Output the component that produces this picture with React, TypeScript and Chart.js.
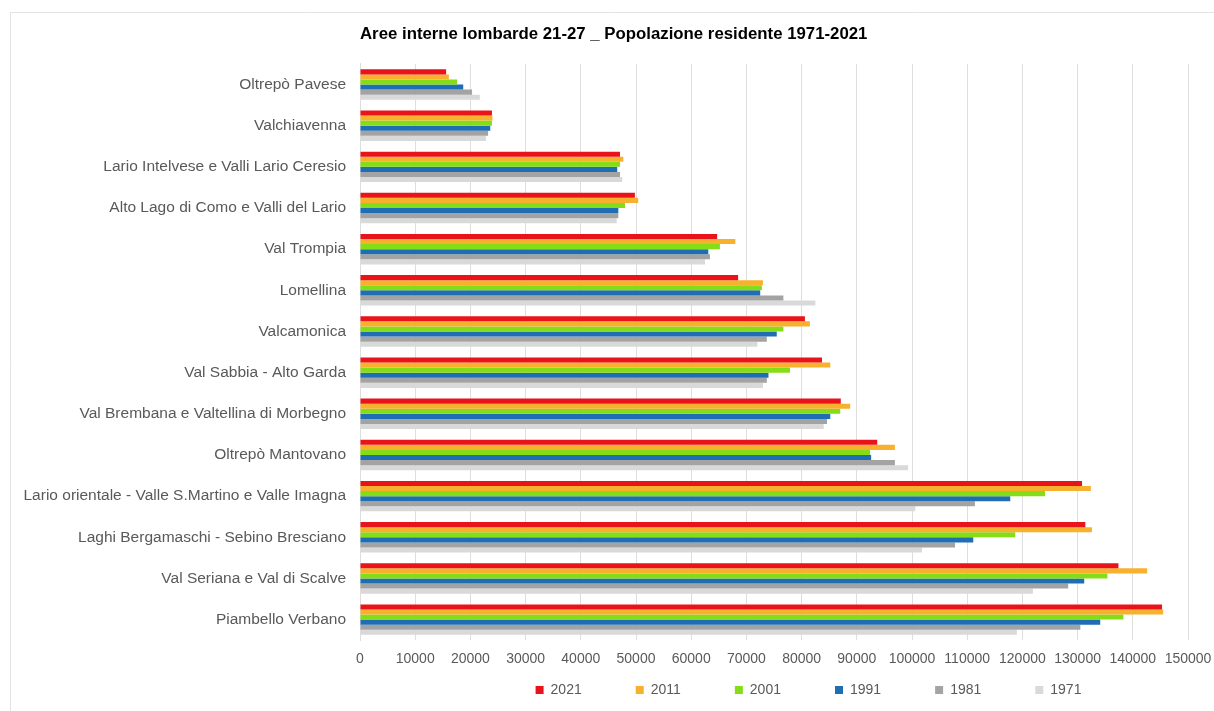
import React, { useEffect, useRef } from "react";
import { Chart, registerables } from "chart.js";

Chart.register(...registerables);

const categories = [
  "Oltrepò Pavese",
  "Valchiavenna",
  "Lario Intelvese e Valli Lario Ceresio",
  "Alto Lago di Como e Valli del Lario",
  "Val Trompia",
  "Lomellina",
  "Valcamonica",
  "Val Sabbia - Alto Garda",
  "Val Brembana e Valtellina di Morbegno",
  "Oltrepò Mantovano",
  "Lario orientale - Valle S.Martino e Valle Imagna",
  "Laghi Bergamaschi - Sebino Bresciano",
  "Val Seriana e Val di Scalve",
  "Piambello Verbano",
];

const pop2021 = [15600, 23900, 47100, 49800, 64700, 68500, 80600, 83700, 87100, 93700, 130800, 131400, 137400, 145300];
const pop2011 = [16100, 24000, 47700, 50400, 68000, 73000, 81500, 85200, 88800, 96900, 132400, 132600, 142600, 145500];
const pop2001 = [17600, 23900, 47100, 48000, 65200, 72800, 76700, 77900, 87000, 92400, 124100, 118700, 135400, 138300];
const pop1991 = [18700, 23600, 46600, 46800, 63100, 72500, 75500, 74000, 85200, 92600, 117800, 111100, 131200, 134100];
const pop1981 = [20300, 23200, 47100, 46800, 63400, 76700, 73700, 73700, 84600, 96900, 111400, 107800, 128300, 130500];
const pop1971 = [21700, 22800, 47500, 46500, 62500, 82500, 72000, 73000, 84000, 99300, 100600, 101800, 121900, 119000];

const seriesLabels = ["2021", "2011", "2001", "1991", "1981", "1971"];
const seriesColors = ["#E8141A", "#F7B12F", "#84DD16", "#1F6DB3", "#A3A3A3", "#D9D9D9"];

const xMin = 0;
const xMax = 150000;
const xStep = 10000;

const title = "Aree interne lombarde 21-27 _ Popolazione residente 1971-2021";

const FONT = "Liberation Sans, Arial, sans-serif";

const framePlugin = {
  id: "frame",
  beforeDraw(chart: any) {
    const ctx = chart.ctx;
    ctx.save();
    ctx.fillStyle = "#ffffff";
    ctx.fillRect(0, 0, chart.width, chart.height);
    ctx.strokeStyle = "#e3e3e3";
    ctx.lineWidth = 1;
    ctx.beginPath();
    ctx.moveTo(10.5, chart.height);
    ctx.lineTo(10.5, 12.5);
    ctx.lineTo(chart.width, 12.5);
    ctx.stroke();
    ctx.restore();
  },
};

export default function App() {
  const ref = useRef<HTMLCanvasElement>(null);

  useEffect(() => {
    if (!ref.current) return;
    const series = [pop2021, pop2011, pop2001, pop1991, pop1981, pop1971];
    const chart = new Chart(ref.current, {
      type: "bar",
      data: {
        labels: categories,
        datasets: series.map((d, i) => ({
          label: seriesLabels[i],
          data: d,
          backgroundColor: seriesColors[i],
          borderWidth: 0,
          categoryPercentage: 0.74,
          barPercentage: 1.0,
        })),
      },
      options: {
        indexAxis: "y",
        animation: false,
        responsive: false,
        maintainAspectRatio: false,
        layout: { padding: { left: 10, right: 26, top: 20, bottom: 4 } },
        plugins: {
          title: {
            display: true,
            text: title,
            fullSize: false,
            align: "start",
            color: "#000000",
            font: { family: FONT, size: 16.8, weight: "bold" },
            padding: { top: 4.4, bottom: 19.4 },
          },
          legend: {
            position: "bottom",
            fullSize: false,
            title: {
              display: true,
              text: "",
              font: { family: FONT, size: 10 },
              padding: { top: -52, bottom: 0 },
            },
            labels: {
              boxWidth: 8,
              boxHeight: 8,
              padding: 54,
              color: "#595959",
              font: { family: FONT, size: 14 },
              generateLabels: (chart: any) => {
                const items = Chart.defaults.plugins.legend.labels.generateLabels(chart);
                items.unshift({
                  text: "",
                  fillStyle: "rgba(0,0,0,0)",
                  strokeStyle: "rgba(0,0,0,0)",
                  lineWidth: 0,
                  hidden: false,
                  datasetIndex: -1,
                } as any);
                return items;
              },
            },
          },
          tooltip: { enabled: false },
        },
        scales: {
          x: {
            type: "linear",
            min: xMin,
            max: xMax,
            grid: { color: "#dedede", drawTicks: true, tickLength: 10, tickColor: "rgba(0,0,0,0)" },
            border: { display: false },
            ticks: {
              stepSize: xStep,
              padding: 1,
              color: "#595959",
              font: { family: FONT, size: 14 },
              maxRotation: 0,
              autoSkip: false,
              callback: (v: any) => String(v),
            },
          },
          y: {
            type: "category",
            grid: { display: false, drawTicks: false },
            border: { display: true, color: "#dedede" },
            ticks: {
              padding: 14,
              color: "#595959",
              font: { family: FONT, size: 15.5 },
              autoSkip: false,
            },
            afterFit: (scale: any) => {
              scale.width = 350;
            },
          },
        },
      },
      plugins: [framePlugin],
    });
    return () => chart.destroy();
  }, []);

  return (
    <div style={{ position: "fixed", left: 0, top: 0, width: 1214, height: 711 }}>
      <canvas ref={ref} width={1214} height={711} style={{ width: 1214, height: 711 }} />
    </div>
  );
}
